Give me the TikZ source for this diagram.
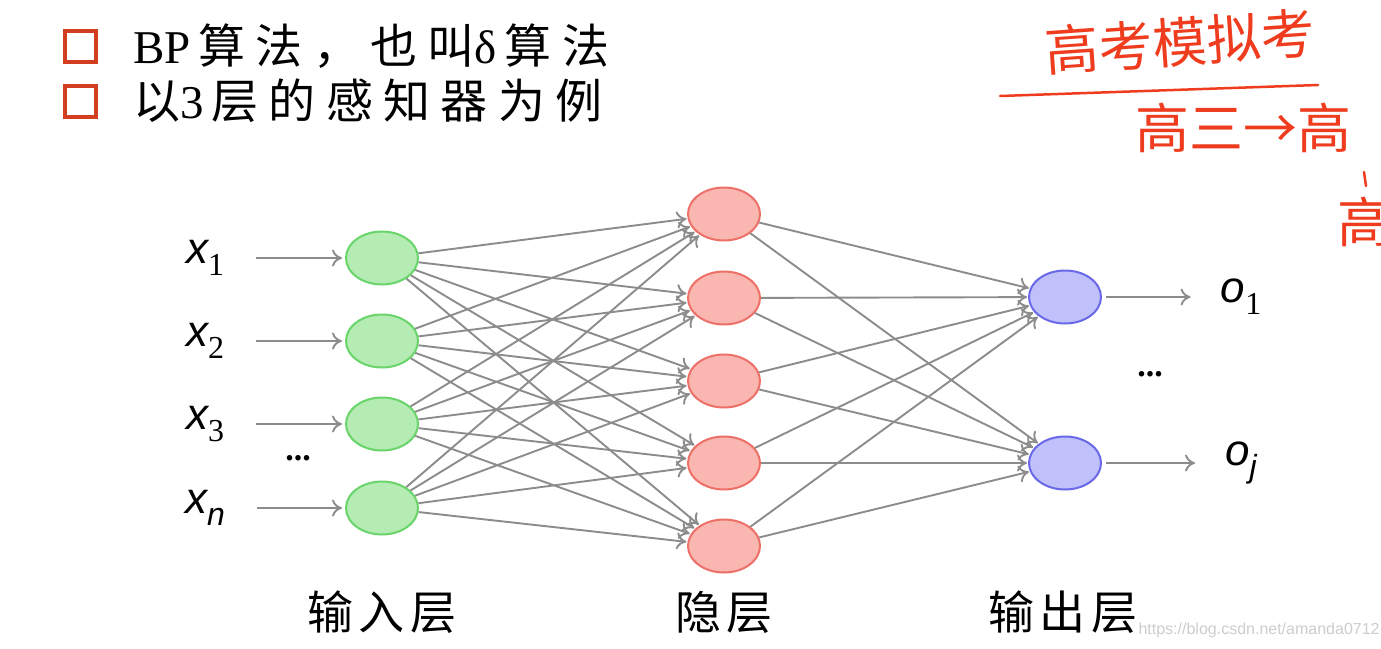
\documentclass[tikz,border=0pt]{standalone}
\usepackage{fontspec}
\setmainfont{Liberation Serif}
\newfontfamily\cjk{Noto Sans CJK SC}
\newfontfamily\cjklayer[LetterSpace=12]{Noto Sans CJK SC}
\newfontfamily\cjkwide[LetterSpace=22]{Noto Sans CJK SC}
\newfontfamily\webfont{Liberation Sans}
\newfontfamily\varfont{Liberation Sans}
\newcommand{\varsym}[2]{{\varfont\itshape #1}\raisebox{-0.28em}{\fontsize{32}{36}\selectfont #2}}
\usetikzlibrary{%
	arrows.meta,%
	shapes.geometric
}
\definecolor{infill}{RGB}{180,236,180}
\definecolor{indraw}{RGB}{105,212,105}
\definecolor{hidfill}{RGB}{250,182,176}
\definecolor{hiddraw}{RGB}{236,112,104}
\definecolor{outfill}{RGB}{192,192,250}
\definecolor{outdraw}{RGB}{104,104,232}
\definecolor{linkgray}{RGB}{140,140,140}
\definecolor{boxred}{RGB}{212,62,32}
\definecolor{penred}{RGB}{240,60,30}
\definecolor{markgray}{RGB}{205,205,205}

\begin{document}
\begin{tikzpicture}[x=1pt,y=-1pt,
		neuron/.style={ellipse,line width=2pt,minimum width=72pt,minimum height=53pt,inner sep=0pt},
		innode/.style={neuron,fill=infill,draw=indraw},
		hidnode/.style={neuron,fill=hidfill,draw=hiddraw},
		outnode/.style={neuron,fill=outfill,draw=outdraw},
		link/.style={draw=linkgray,line width=1.9pt,-{To[length=10pt,width=17pt]}},
		varlabel/.style={font=\fontsize{44}{50}\selectfont,inner sep=0pt},
		layername/.style={font=\cjklayer\fontsize{46}{52}\selectfont,inner sep=0pt},
		bulletbox/.style={draw=boxred,line width=4pt,minimum size=31pt,inner sep=0pt},
		bullettext/.style={font=\cjkwide\fontsize{47}{52}\selectfont,anchor=west,inner sep=0pt},
		pen/.style={text=penred,font=\cjk\fontsize{54}{60}\selectfont,inner sep=0pt}
	]
	\useasboundingbox[fill=white] (0,0) rectangle (1381,648);

	% Heading lines
	\node[bulletbox] (b1) at (80,46) {};
	\node[bulletbox] (b2) at (80,101) {};
	\node[bullettext] (t1) at (133,46) {{\rmfamily BP}\,算法，也叫{\rmfamily δ}\,算法};
	\node[bullettext] (t2) at (133,101) {以{\rmfamily 3}\,层的感知器为例};

	% Neurons
	\foreach \n/\y in {1/258,2/341,3/424,4/508}
		\node[innode] (i\n) at (382,\y) {};
	\foreach \n/\y in {1/214,2/298,3/381,4/463,5/546}
		\node[hidnode] (h\n) at (724,\y) {};
	\foreach \n/\y in {1/297,2/463}
		\node[outnode] (o\n) at (1065,\y) {};

	% Inputs and outputs
	\node[varlabel] (x1) at (205,258) {\varsym{x}{1}};
	\node[varlabel] (x2) at (205,341) {\varsym{x}{2}};
	\node[varlabel] (x3) at (205,424) {\varsym{x}{3}};
	\node[varlabel] (xn) at (205,508) {\varsym{x}{\varfont\itshape n}};
	\node[varlabel] (y1) at (1241,297) {\varsym{o}{1}};
	\node[varlabel] (yj) at (1241,463) {\varsym{o}{\varfont\itshape j}};
	\node[font=\bfseries\fontsize{34}{40}\selectfont] (dl) at (298,458) {...};
	\node[font=\bfseries\fontsize{34}{40}\selectfont] (dr) at (1150,374) {...};

	\foreach \n in {1,2,3}
		\draw[link,shorten <=32pt,shorten >=3pt] (x\n) -- (i\n);
	\draw[link,shorten <=32pt,shorten >=3pt] (xn) -- (i4);
	\draw[link,shorten >=30pt,shorten <=4pt] (o1) -- (y1);
	\draw[link,shorten >=30pt,shorten <=4pt] (o2) -- (yj);

	% Weights
	\foreach \a in {1,...,4}
		\foreach \b in {1,...,5}
			\draw[link,shorten >=1pt] (i\a) -- (h\b);
	\foreach \b in {1,...,5}
		\foreach \c in {1,2}
			\draw[link,shorten >=1pt] (h\b) -- (o\c);

	% Layer names
	\node[layername] (l1) at (382,612) {输入层};
	\node[layername] (l2) at (724,612) {隐层};
	\node[layername] (l3) at (1063,612) {输出层};

	% Handwritten note
	\node[pen,rotate=4] (n1) at (1180,42) {高考模拟考};
	\coordinate (u1) at (1000,96);
	\coordinate (u2) at (1318,85);
	\draw[penred,line width=2.5pt,line cap=round] (u1) -- (u2);
	\node[pen,anchor=west] (n2) at (1135,128) {高三→高};
	\node[pen,anchor=west] (n3) at (1337,222) {高};
	\coordinate (k1) at (1364,172);
	\coordinate (k2) at (1366,186);
	\draw[penred,line width=2.5pt,line cap=round] (k1) -- (k2);

	% Site mark
	\node[text=markgray,font=\webfont\fontsize{16}{20}\selectfont,anchor=west] (wm) at (1135,630) {https://blog.csdn.net/amanda0712};
\end{tikzpicture}
\end{document}
